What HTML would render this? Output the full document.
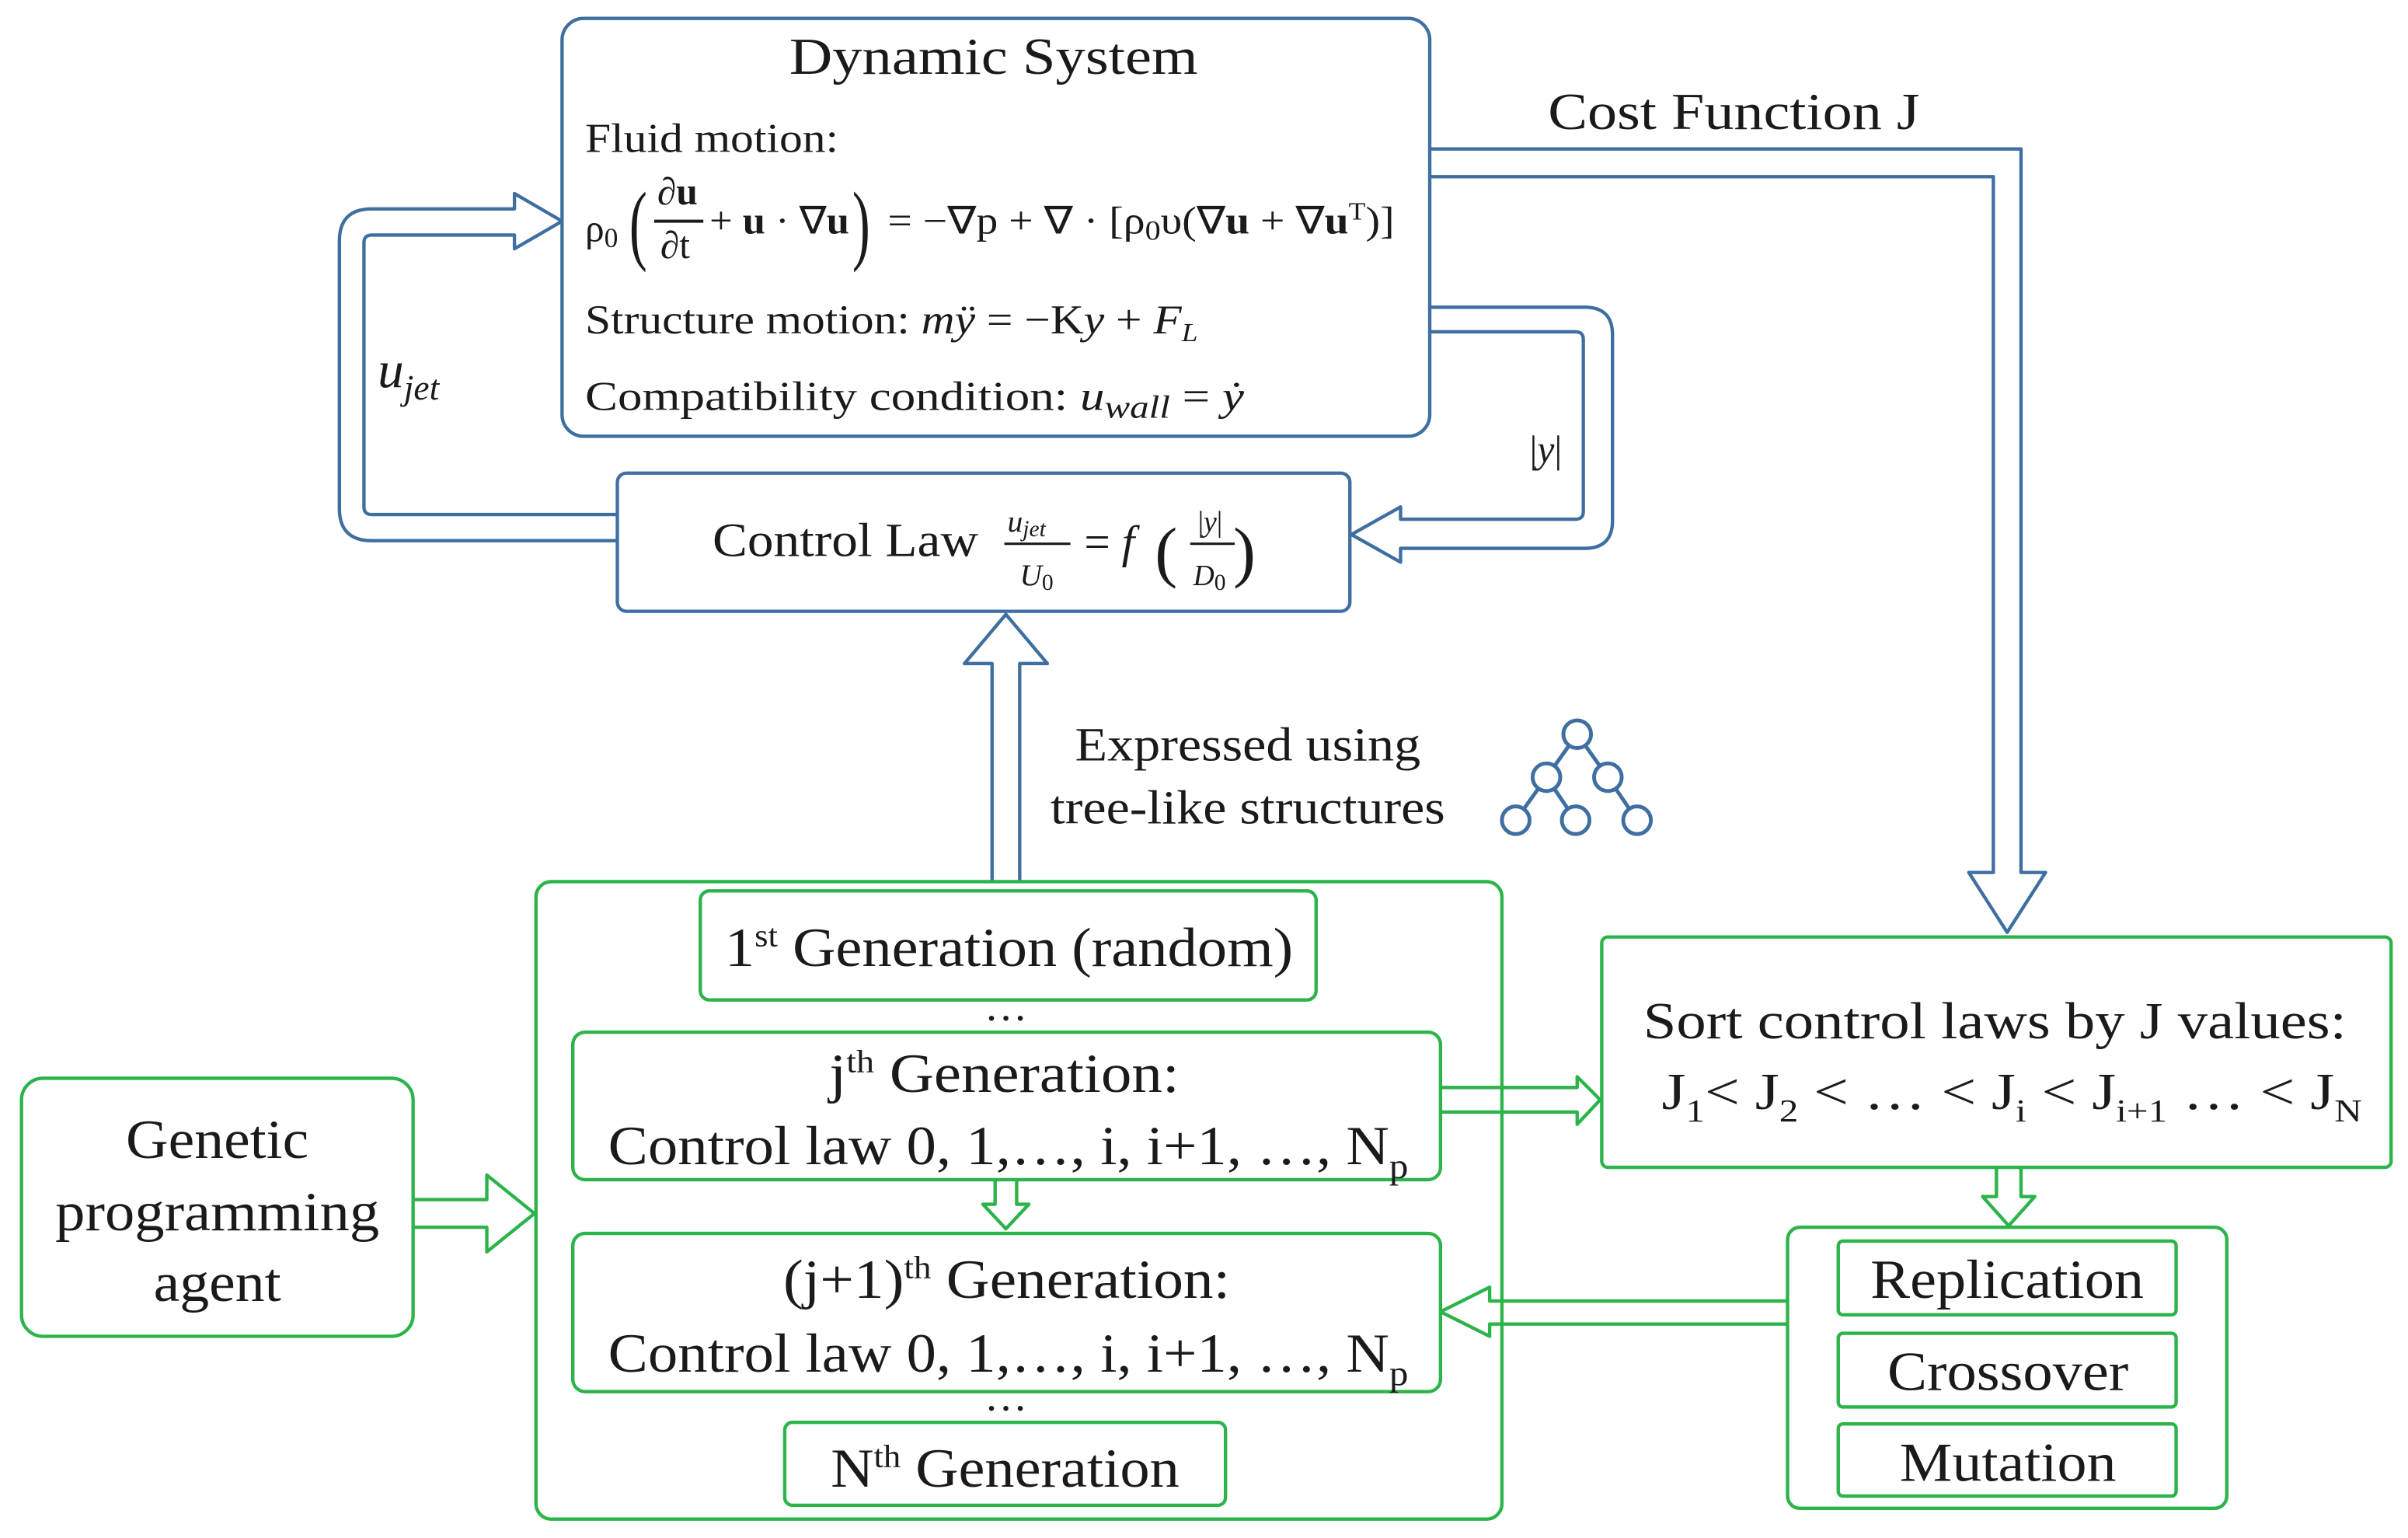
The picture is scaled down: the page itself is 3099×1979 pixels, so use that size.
<!DOCTYPE html>
<html><head><meta charset="utf-8">
<style>
html,body{margin:0;padding:0;background:#fff;}
svg{display:block;}
text{font-family:"Liberation Serif",serif;fill:#1a1a1a;}
.b{fill:none;stroke:#3f6fa0;stroke-width:2.2;stroke-linejoin:round;}
.g{fill:none;stroke:#2cb34a;stroke-width:2.2;stroke-linejoin:round;}
</style></head>
<body>
<svg width="3099" height="1979" viewBox="0 0 1568 1001.3" preserveAspectRatio="none" xmlns="http://www.w3.org/2000/svg">
<rect x="0" y="0" width="1568" height="1002" fill="#fff"/>
<!-- Dynamic system -->
<rect class="b" x="366" y="12" width="565" height="272" rx="14"/>
<text x="514" y="48" font-size="34" textLength="266" lengthAdjust="spacingAndGlyphs">Dynamic System</text>
<text x="381" y="99" font-size="27" textLength="165" lengthAdjust="spacingAndGlyphs">Fluid motion:</text>
<text x="381" y="157" font-size="25">ρ<tspan font-size="18" dy="4">0</tspan></text>
<text x="410" y="165" font-size="58" transform="scale(0.6,1) translate(273,0)">(</text>
<text x="428" y="133" font-size="25">∂<tspan font-weight="bold">u</tspan></text>
<line x1="426" y1="144" x2="458" y2="144" stroke="#1a1a1a" stroke-width="2"/>
<text x="430" y="168" font-size="25">∂t</text>
<text x="462" y="152" font-size="25" textLength="91" lengthAdjust="spacingAndGlyphs">+ <tspan font-weight="bold">u</tspan> · ∇<tspan font-weight="bold">u</tspan></text>
<text x="555" y="165" font-size="58" transform="scale(0.6,1) translate(370,0)">)</text>
<text x="578" y="152" font-size="25" textLength="330" lengthAdjust="spacingAndGlyphs">= −∇p + ∇ · [ρ<tspan font-size="18" dy="4">0</tspan><tspan dy="-4">υ(∇</tspan><tspan font-weight="bold">u</tspan> + ∇<tspan font-weight="bold">u</tspan><tspan font-size="16" dy="-9">T</tspan><tspan dy="9">)]</tspan></text>
<text x="381" y="217" font-size="27" textLength="399" lengthAdjust="spacingAndGlyphs">Structure motion:  <tspan font-style="italic">mÿ</tspan> = −K<tspan font-style="italic">y</tspan> + <tspan font-style="italic">F</tspan><tspan font-size="17" dy="5" font-style="italic">L</tspan></text>
<text x="381" y="267" font-size="27" textLength="429" lengthAdjust="spacingAndGlyphs">Compatibility condition: <tspan font-style="italic">u</tspan><tspan font-size="21" dy="5" font-style="italic">wall</tspan><tspan dy="-5"> = </tspan><tspan font-style="italic">ẏ</tspan></text>

<!-- cost function arrow -->
<path class="b" d="M931,97 L1316,97 L1316,568 L1332,568 L1307,607 L1282,568 L1298,568 L1298,115 L931,115"/>
<text x="1008" y="84" font-size="34" textLength="242" lengthAdjust="spacingAndGlyphs">Cost Function J</text>

<!-- |y| arrow -->
<path class="b" d="M931,200 L1032,200 Q1050,200 1050,218 L1050,339 Q1050,357 1032,357 L912,357 L912,366 L880,348 L912,330 L912,338 L1026,338 Q1031,338 1031,333 L1031,221 Q1031,216 1026,216 L931,216"/>
<text x="996" y="301" font-size="25">|<tspan font-style="italic">y</tspan>|</text>

<!-- u_jet arrow -->
<path class="b" d="M402,352 L242,352 Q221,352 221,331 L221,157 Q221,136 242,136 L335,136 L335,126 L366,144 L335,162 L335,153 L242,153 Q237,153 237,158 L237,330 Q237,335 242,335 L402,335"/>
<text x="246" y="252" font-size="34" font-style="italic">u<tspan font-size="23" dy="8">jet</tspan></text>

<!-- control law -->
<rect class="b" x="402" y="308" width="477" height="90" rx="6"/>
<text x="464" y="362" font-size="31" textLength="173" lengthAdjust="spacingAndGlyphs">Control Law</text>
<text x="656" y="346" font-size="20" font-style="italic">u<tspan font-size="15" dy="3">jet</tspan></text>
<line x1="654" y1="354" x2="697" y2="354" stroke="#1a1a1a" stroke-width="1.6"/>
<text x="664" y="381" font-size="20" font-style="italic">U<tspan font-size="15" dy="3" font-style="normal">0</tspan></text>
<text x="706" y="363" font-size="30">= <tspan font-style="italic">f</tspan></text>
<text x="752" y="374" font-size="44">(</text>
<text x="780" y="346" font-size="19">|<tspan font-style="italic">y</tspan>|</text>
<line x1="775" y1="354" x2="804" y2="354" stroke="#1a1a1a" stroke-width="1.6"/>
<text x="777" y="381" font-size="19" font-style="italic">D<tspan font-size="15" dy="3" font-style="normal">0</tspan></text>
<text x="803" y="374" font-size="44">)</text>

<!-- up arrow -->
<path class="b" d="M646,574 L646,432 L628,432 L655,400 L682,432 L664,432 L664,574"/>
<text x="700" y="495" font-size="31" textLength="225" lengthAdjust="spacingAndGlyphs">Expressed using</text>
<text x="684" y="536" font-size="31" textLength="257" lengthAdjust="spacingAndGlyphs">tree-like structures</text>
<!-- tree icon -->
<g stroke="#3f6fa0" stroke-width="2.5" fill="#fff">
<line x1="1027" y1="478" x2="1007" y2="506"/><line x1="1027" y1="478" x2="1047" y2="506"/>
<line x1="1007" y1="506" x2="987" y2="534"/><line x1="1007" y1="506" x2="1026" y2="534"/>
<line x1="1047" y1="506" x2="1066" y2="534"/>
<circle cx="1027" cy="478" r="9"/><circle cx="1007" cy="506" r="9"/><circle cx="1047" cy="506" r="9"/>
<circle cx="987" cy="534" r="9"/><circle cx="1026" cy="534" r="9"/><circle cx="1066" cy="534" r="9"/>
</g>

<!-- green big box -->
<rect class="g" x="349" y="574" width="629" height="415" rx="10"/>
<rect class="g" x="456" y="580" width="401" height="71" rx="6"/>
<text x="472" y="629" font-size="36" textLength="370" lengthAdjust="spacingAndGlyphs">1<tspan font-size="21" dy="-13">st</tspan><tspan dy="13"> Generation (random)</tspan></text>
<text x="655" y="664" font-size="28" text-anchor="middle">…</text>
<rect class="g" x="373" y="672" width="565" height="96" rx="8"/>
<text x="540" y="711" font-size="36" textLength="228" lengthAdjust="spacingAndGlyphs">j<tspan font-size="21" dy="-13">th</tspan><tspan dy="13"> Generation:</tspan></text>
<text x="396" y="758" font-size="36" textLength="521" lengthAdjust="spacingAndGlyphs">Control law 0, 1,…, i, i+1, …, N<tspan font-size="23" dy="9">p</tspan></text>
<path class="g" d="M648,768 L648,784 L640,784 L655,800 L670,784 L662,784 L662,768"/>
<rect class="g" x="373" y="803" width="565" height="103" rx="8"/>
<text x="510" y="845" font-size="36" textLength="291" lengthAdjust="spacingAndGlyphs">(j+1)<tspan font-size="21" dy="-13">th</tspan><tspan dy="13"> Generation:</tspan></text>
<text x="396" y="893" font-size="36" textLength="521" lengthAdjust="spacingAndGlyphs">Control law 0, 1,…, i, i+1, …, N<tspan font-size="23" dy="9">p</tspan></text>
<text x="655" y="918" font-size="28" text-anchor="middle">…</text>
<rect class="g" x="511" y="926" width="287" height="54" rx="5"/>
<text x="541" y="968" font-size="36" textLength="227" lengthAdjust="spacingAndGlyphs">N<tspan font-size="21" dy="-13">th</tspan><tspan dy="13"> Generation</tspan></text>

<!-- genetic agent -->
<rect class="g" x="14" y="702" width="255" height="168" rx="14"/>
<text x="82" y="754" font-size="36" textLength="119" lengthAdjust="spacingAndGlyphs">Genetic</text>
<text x="36" y="801" font-size="36" textLength="211" lengthAdjust="spacingAndGlyphs">programming</text>
<text x="100" y="847" font-size="36" textLength="83" lengthAdjust="spacingAndGlyphs">agent</text>
<path class="g" d="M269,781 L317,781 L317,765 L348,790 L317,815 L317,799 L269,799"/>

<!-- jth -> sort -->
<path class="g" d="M938,708 L1027,708 L1027,701 L1042,716 L1027,732 L1027,724 L938,724"/>
<rect class="g" x="1043" y="610" width="514" height="150" rx="4"/>
<text x="1070" y="676" font-size="34" textLength="458" lengthAdjust="spacingAndGlyphs">Sort control laws by J values:</text>
<text x="1082" y="722" font-size="34" textLength="456" lengthAdjust="spacingAndGlyphs">J<tspan font-size="21" dy="8">1</tspan><tspan dy="-8">&lt;  J</tspan><tspan font-size="21" dy="8">2</tspan><tspan dy="-8"> &lt; … &lt; J</tspan><tspan font-size="21" dy="8">i</tspan><tspan dy="-8"> &lt; J</tspan><tspan font-size="21" dy="8">i+1</tspan><tspan dy="-8"> … &lt;  J</tspan><tspan font-size="21" dy="8">N</tspan></text>
<path class="g" d="M1300,760 L1300,779 L1291,779 L1308,798 L1325,779 L1316,779 L1316,760"/>

<!-- ops box -->
<rect class="g" x="1164" y="799" width="286" height="183" rx="8"/>
<rect class="g" x="1197" y="808" width="220" height="48" rx="3"/>
<text x="1218" y="845" font-size="36" textLength="178" lengthAdjust="spacingAndGlyphs">Replication</text>
<rect class="g" x="1197" y="868" width="220" height="48" rx="3"/>
<text x="1229" y="905" font-size="36" textLength="157" lengthAdjust="spacingAndGlyphs">Crossover</text>
<rect class="g" x="1197" y="927" width="220" height="47" rx="3"/>
<text x="1237" y="964" font-size="36" textLength="141" lengthAdjust="spacingAndGlyphs">Mutation</text>
<path class="g" d="M1164,847 L970,847 L970,838 L938,854 L970,870 L970,862 L1164,862"/>
</svg>
</body></html>
